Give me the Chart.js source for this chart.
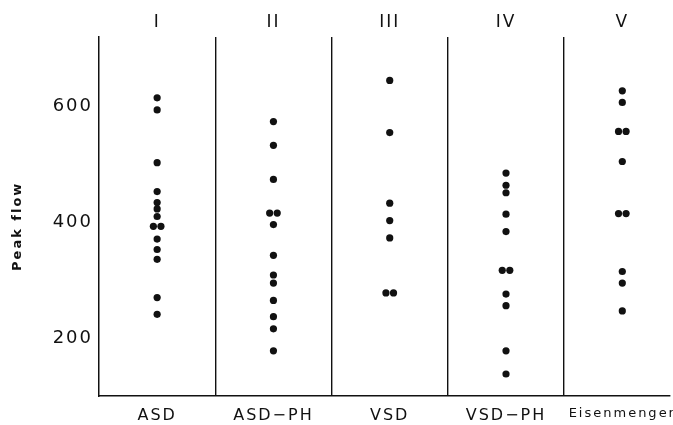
<!DOCTYPE html>
<html>
<head>
<meta charset="utf-8">
<script src="https://cdn.jsdelivr.net/npm/chart.js@4/dist/chart.umd.min.js"></script>
<style>
  html, body { margin: 0; padding: 0; background: #ffffff; }
  canvas { display: block; }
</style>
</head>
<body>
<canvas id="c" width="673" height="425"></canvas>
<script>
// ---- data ----
const categories = ['ASD', 'ASD\u2212PH', 'VSD', 'VSD\u2212PH', 'Eisenmenger'];
const groupNumerals = ['I', 'II', 'III', 'IV', 'V'];
const asd = [615, 594, 503, 453, 434, 423, 410, 393, 393, 371, 353, 336, 270, 241];
const asdPh = [574, 533, 474, 416, 416, 396, 343, 309, 295, 265, 237, 216, 178];
const vsd = [645, 555, 433, 403, 373, 278, 278];
const vsdPh = [485, 464, 451, 414, 384, 317, 317, 276, 256, 178, 138];
const eisenmenger = [627, 607, 557, 557, 505, 415, 415, 315, 295, 247];
const yTicks = [200, 400, 600];
const yTitle = 'Peak flow';

const groups = [asd, asdPh, vsd, vsdPh, eisenmenger];

// build points: group centre at index + 0.5, identical values set side by side
const points = [];
groups.forEach((vals, g) => {
  const seen = {};
  vals.forEach(v => {
    const count = vals.filter(w => w === v).length;
    let dx = 0;
    if (count > 1) {
      const k = seen[v] || 0;
      seen[v] = k + 1;
      dx = (k - (count - 1) / 2) * 0.065;
    }
    points.push({ x: g + 0.5 + dx, y: v });
  });
});

const FONT = "'DejaVu Sans', sans-serif";
const INK = '#111111';
const X_MAX = 4.905;

const spacing = {
  id: 'spacing',
  beforeUpdate(c) { c.ctx.letterSpacing = '2px'; },
  beforeDraw(c) { c.ctx.letterSpacing = '2px'; }
};

const bottomTicks = [];
categories.forEach((_, i) => { bottomTicks.push(i + 0.5); if (i < categories.length - 1) bottomTicks.push(i + 1); });

new Chart(document.getElementById('c'), {
  type: 'scatter',
  data: {
    datasets: [{
      data: points,
      backgroundColor: INK,
      borderWidth: 0,
      pointRadius: 3.6,
      pointHoverRadius: 3.6
    }]
  },
  plugins: [spacing],
  options: {
    responsive: false,
    animation: false,
    devicePixelRatio: 1,
    layout: { padding: 0 },
    plugins: { legend: { display: false }, tooltip: { enabled: false } },
    scales: {
      x: {
        type: 'linear',
        position: 'bottom',
        min: 0,
        max: X_MAX,
        afterBuildTicks: s => { s.ticks = bottomTicks.map(v => ({ value: v })); },
        afterFit: s => { s.height = 29; s.paddingLeft = 0; s.paddingRight = 0; },
        ticks: {
          autoSkip: false,
          maxRotation: 0,
          padding: 10,
          color: INK,
          font: ctx => {
            const v = ctx.tick ? ctx.tick.value : 0;
            const lbl = categories[Math.floor(v)];
            return { family: FONT, size: lbl === 'Eisenmenger' ? 13 : 16 };
          },
          callback: v => (Math.abs(v % 1 - 0.5) < 1e-6 ? categories[Math.floor(v)] : '')
        },
        grid: {
          drawTicks: false,
          lineWidth: 1.4,
          color: ctx => (ctx.tick && Number.isInteger(ctx.tick.value) ? INK : 'rgba(0,0,0,0)')
        },
        border: { display: true, color: INK, width: 1.5 }
      },
      xTop: {
        type: 'linear',
        position: 'top',
        min: 0,
        max: X_MAX,
        afterBuildTicks: s => { s.ticks = groupNumerals.map((_, i) => ({ value: i + 0.5 })); },
        afterFit: s => { s.height = 37; s.paddingLeft = 0; s.paddingRight = 0; },
        ticks: {
          autoSkip: false,
          maxRotation: 0,
          padding: 4,
          color: INK,
          font: { family: FONT, size: 17 },
          callback: v => groupNumerals[Math.round(v - 0.5)]
        },
        grid: { display: false, drawTicks: false },
        border: { display: false }
      },
      y: {
        type: 'linear',
        min: 100,
        max: 720,
        afterBuildTicks: s => { s.ticks = yTicks.map(v => ({ value: v })); },
        afterFit: s => { s.width = 99; },
        ticks: {
          padding: 6,
          color: INK,
          font: { family: FONT, size: 18 }
        },
        grid: { display: false, drawTicks: false },
        border: { display: true, color: INK, width: 1.5 },
        title: {
          display: true,
          text: yTitle + '   ',
          color: INK,
          font: { family: FONT, size: 13, weight: 'bold' },
          padding: { top: 10, bottom: 0 }
        }
      }
    }
  }
});
</script>
</body>
</html>
